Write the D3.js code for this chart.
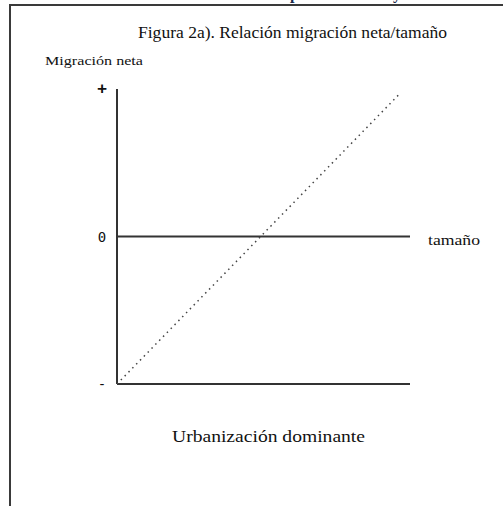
<!DOCTYPE html>
<html>
<head>
<meta charset="utf-8">
<script src="https://cdn.jsdelivr.net/npm/d3@7"></script>
<style>
  body { margin: 0; background: #fff; }
  svg text { font-family: "Liberation Serif", "DejaVu Serif", serif; fill: #111; }
</style>
</head>
<body>
<div id="chart"></div>
<script>
'use strict';

// Chart data
var yTickValues = [-1, 0, 1];
var yTickLabels = ['-', '0', '+'];
var hLines = [0, -1];               // zero line and base line (y values)
var diagonal = [[0, -1], [0.962, 0.962]];
var titleText = 'Figura 2a). Relación migración neta/tamaño';
var yTitle = 'Migración neta';
var xTitle = 'tamaño';
var caption = 'Urbanización dominante';
var cutText = [['p', 290], ['y', 393]];   // descenders of the cut-off heading above

var width = 503, height = 506;

var svg = d3.select('#chart').append('svg')
  .attr('width', width)
  .attr('height', height);

var x = d3.scaleLinear().domain([0, 1]).range([117, 410]);
var y = d3.scaleLinear().domain([-1, 1]).range([384, 89]);

// frame (only top and left edges visible)
svg.append('path')
  .attr('d', 'M10,506 L10,5 L503,5')
  .attr('fill', 'none')
  .attr('stroke', '#3a3a3a')
  .attr('stroke-width', 2);

// leftovers of the text above the frame
svg.selectAll('.cut').data(cutText).enter().append('text')
  .attr('class', 'cut')
  .attr('x', function(d) { return d[1]; })
  .attr('y', -1)
  .style('font-size', '16px')
  .style('font-weight', 'bold')
  .style('fill', '#1a2a4a')
  .text(function(d) { return d[0]; });

// title
svg.append('text')
  .attr('x', 138).attr('y', 38)
  .attr('textLength', 309)
  .attr('lengthAdjust', 'spacingAndGlyphs')
  .style('font-size', '16px')
  .text(titleText);

svg.append('text')
  .attr('x', 45).attr('y', 65)
  .attr('textLength', 98)
  .attr('lengthAdjust', 'spacingAndGlyphs')
  .style('font-size', '13px')
  .text(yTitle);

// y axis line
svg.append('line')
  .attr('x1', x(0)).attr('x2', x(0))
  .attr('y1', y(1)).attr('y2', y(-1))
  .attr('stroke', '#333')
  .attr('stroke-width', 2);

// horizontal lines
svg.selectAll('.hline').data(hLines).enter().append('line')
  .attr('class', 'hline')
  .attr('x1', x(0)).attr('x2', x(1))
  .attr('y1', function(d) { return y(d); })
  .attr('y2', function(d) { return y(d); })
  .attr('stroke', '#333')
  .attr('stroke-width', 2);

// tick labels
svg.selectAll('.ylab').data(yTickValues).enter().append('text')
  .attr('class', 'ylab')
  .attr('x', 102)
  .attr('y', function(d) { return y(d) + 5; })
  .attr('text-anchor', 'middle')
  .style('font-family', '"DejaVu Sans Mono", monospace')
  .style('font-size', function(d) { return d === 1 ? '16px' : '14px'; })
  .style('font-weight', function(d) { return d === 1 ? 'bold' : 'normal'; })
  .text(function(d, i) { return yTickLabels[i]; });

svg.append('text')
  .attr('x', 428).attr('y', y(0) + 8)
  .attr('textLength', 52)
  .attr('lengthAdjust', 'spacingAndGlyphs')
  .style('font-size', '14px')
  .text(xTitle);

// dotted diagonal
var line = d3.line()
  .x(function(d) { return x(d[0]); })
  .y(function(d) { return y(d[1]); });

svg.append('path')
  .datum(diagonal)
  .attr('d', line)
  .attr('fill', 'none')
  .attr('stroke', '#444')
  .attr('stroke-width', 1.5)
  .attr('stroke-dasharray', '1.5,4');

svg.append('text')
  .attr('x', 172).attr('y', 442)
  .attr('textLength', 193)
  .attr('lengthAdjust', 'spacingAndGlyphs')
  .style('font-size', '16px')
  .text(caption);
</script>
</body>
</html>
